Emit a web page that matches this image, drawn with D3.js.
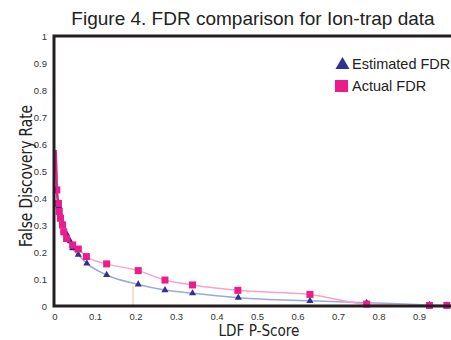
<!DOCTYPE html>
<html>
<head>
<meta charset="utf-8">
<script src="https://cdn.jsdelivr.net/npm/d3@7"></script>
<style>
  body { margin: 0; background: #fff; }
  svg { display: block; font-family: "Liberation Sans", Arial, sans-serif; }
  .tick-label { font-size: 9.5px; fill: #333; }
  .axis-title { font-family: "DejaVu Sans Condensed", "Liberation Sans", sans-serif; fill: #222; }
</style>
</head>
<body>
<div id="chart"></div>
<script>
// LDF p-score (x) vs false discovery rate (y)
const estimatedX = [0.005, 0.008, 0.012, 0.015, 0.022, 0.030, 0.040, 0.046, 0.060, 0.081, 0.130, 0.208, 0.274, 0.342, 0.455, 0.632, 0.772, 0.927, 0.970];
const estimatedY = [0.550, 0.420, 0.370, 0.340, 0.308, 0.270, 0.240, 0.214, 0.190, 0.158, 0.115, 0.080, 0.059, 0.047, 0.031, 0.019, 0.012, 0.004, 0.002];

const actualX = [0.004, 0.006, 0.007, 0.011, 0.013, 0.016, 0.021, 0.024, 0.031, 0.046, 0.060, 0.080, 0.130, 0.208, 0.274, 0.342, 0.454, 0.632, 0.772, 0.927, 0.970];
const actualY = [0.578, 0.490, 0.430, 0.380, 0.350, 0.325, 0.300, 0.275, 0.250, 0.226, 0.211, 0.183, 0.156, 0.131, 0.096, 0.078, 0.058, 0.043, 0.007, 0.002, 0.002];

const xTicks = [0, 0.1, 0.2, 0.3, 0.4, 0.5, 0.6, 0.7, 0.8, 0.9];
const yTicks = [0, 0.1, 0.2, 0.3, 0.4, 0.5, 0.6, 0.7, 0.8, 0.9, 1];

// stray reference mark near p = 0.2
const refMark = [0.195, 0.075];

const width = 451, height = 340;
const margin = {top: 36, left: 54};
const plotW = 405, plotH = 270;

const svg = d3.select('#chart').append('svg')
  .attr('width', width)
  .attr('height', height);

const x = d3.scaleLinear().domain([0, 1]).range([margin.left, margin.left + plotW]);
const y = d3.scaleLinear().domain([0, 1]).range([margin.top + plotH, margin.top]);

const estimated = estimatedX.map((v, i) => ({x: v, y: estimatedY[i]}));
const actual = actualX.map((v, i) => ({x: v, y: actualY[i]}));

svg.append('text')
  .attr('x', 253)
  .attr('y', 25)
  .attr('text-anchor', 'middle')
  .attr('font-size', 19)
  .attr('fill', '#222')
  .text('Figure 4. FDR comparison for Ion-trap data');

// reference mark
svg.append('line')
  .attr('x1', x(refMark[0])).attr('x2', x(refMark[0]))
  .attr('y1', y(0)).attr('y2', y(refMark[1]))
  .attr('stroke', '#f9b9a0')
  .attr('stroke-width', 1);

const line = d3.line()
  .x(d => x(d.x))
  .y(d => y(d.y))
  .curve(d3.curveMonotoneX);

svg.append('path')
  .datum(estimated)
  .attr('d', line)
  .attr('fill', 'none')
  .attr('stroke', '#9aa8dc')
  .attr('stroke-width', 1.5);

svg.append('path')
  .datum(actual)
  .attr('d', line)
  .attr('fill', 'none')
  .attr('stroke', '#f6a3c8')
  .attr('stroke-width', 1.5);

// steep head of the actual curve drawn solid
svg.append('path')
  .datum(actual.slice(0, 4))
  .attr('d', line)
  .attr('fill', 'none')
  .attr('stroke', '#ec1c8c')
  .attr('stroke-width', 2.5);

const tri = d3.symbol().type(d3.symbolTriangle).size(22);

svg.append('g')
  .selectAll('path')
  .data(estimated.slice(2))
  .enter().append('path')
  .attr('d', tri)
  .attr('transform', d => `translate(${x(d.x)},${y(d.y)})`)
  .attr('fill', '#2e3192');

svg.append('g')
  .selectAll('rect')
  .data(actual.slice(2))
  .enter().append('rect')
  .attr('x', d => x(d.x) - 3.5)
  .attr('y', d => y(d.y) - 3.5)
  .attr('width', 7)
  .attr('height', 7)
  .attr('fill', '#ec1c8c');

// frame
svg.append('path')
  .attr('d', `M${width},${y(1)}H${x(0)}V${y(0)}H${width}`)
  .attr('fill', 'none')
  .attr('stroke', '#231f20')
  .attr('stroke-width', 3);

svg.append('g')
  .selectAll('text')
  .data(yTicks)
  .enter().append('text')
  .attr('class', 'tick-label')
  .attr('x', 47)
  .attr('y', d => y(d) + 3.5)
  .attr('text-anchor', 'end')
  .text(d => d === 0 || d === 1 ? d : d3.format('.1f')(d));

svg.append('g')
  .selectAll('text')
  .data(xTicks)
  .enter().append('text')
  .attr('class', 'tick-label')
  .attr('x', d => x(d) + 1)
  .attr('y', 320)
  .attr('text-anchor', 'middle')
  .text(d => d === 0 ? d : d3.format('.1f')(d));

svg.append('text')
  .attr('class', 'axis-title')
  .attr('x', 259)
  .attr('y', 336)
  .attr('text-anchor', 'middle')
  .attr('font-size', 16.5)
  .attr('textLength', 81)
  .attr('lengthAdjust', 'spacingAndGlyphs')
  .text('LDF P-Score');

svg.append('text')
  .attr('class', 'axis-title')
  .attr('transform', 'translate(32,176) rotate(-90)')
  .attr('text-anchor', 'middle')
  .attr('font-size', 17)
  .attr('textLength', 142)
  .attr('lengthAdjust', 'spacingAndGlyphs')
  .text('False Discovery Rate');

// legend
const legend = svg.append('g');
legend.append('path')
  .attr('d', d3.symbol().type(d3.symbolTriangle).size(85))
  .attr('transform', 'translate(342.5,65)')
  .attr('fill', '#2e3192');
legend.append('text')
  .attr('x', 352)
  .attr('y', 69)
  .attr('font-size', 14.5)
  .attr('fill', '#222')
  .text('Estimated FDR');
legend.append('rect')
  .attr('x', 335).attr('y', 80)
  .attr('width', 13).attr('height', 12)
  .attr('fill', '#ec1c8c');
legend.append('text')
  .attr('x', 352)
  .attr('y', 91)
  .attr('font-size', 14.5)
  .attr('fill', '#222')
  .text('Actual FDR');
</script>
</body>
</html>
